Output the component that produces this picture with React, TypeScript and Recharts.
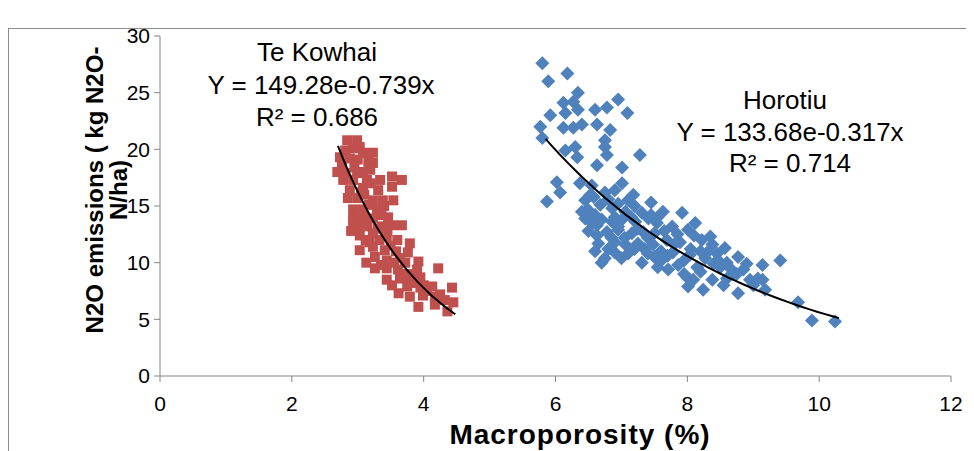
import React from 'react';
import { ScatterChart, Scatter, XAxis, YAxis } from 'recharts';

// Te Kowhai (red squares)
const teKowhaiX = [
  2.84, 2.99, 2.81, 2.93, 3.03, 3.08, 3.23, 2.73, 2.88, 3.0, 3.16, 3.23, 2.69, 2.81, 2.99, 3.08, 3.19, 3.52,
  3.67, 2.78, 2.93, 3.14, 3.34, 3.52, 2.88, 3.08, 3.31, 2.85, 3.0, 3.23, 3.38, 3.54, 2.93, 3.08, 3.29, 2.93,
  3.08, 3.23, 3.46, 3.67, 2.99, 3.14, 3.37, 2.93, 3.52, 3.03, 3.23, 3.44, 3.6, 3.03, 3.23, 3.41, 3.79, 3.76,
  3.26, 3.44, 3.64, 3.92, 3.26, 3.44, 3.61, 3.9, 4.22, 3.44, 3.64, 3.79, 3.95, 3.75, 3.95, 4.13, 4.43, 3.79,
  3.99, 4.17, 4.32, 4.45, 3.92, 4.17, 4.36, 2.76, 2.95, 3.1, 3.17, 3.36, 3.12, 3.33, 3.5, 3.55, 3.7, 3.52,
  3.85, 4.05, 4.25, 3.62, 2.9, 3.13, 3.35, 3.05, 3.2, 3.4, 3.3, 3.45, 3.58, 3.72, 3.85, 4.0, 3.18,
];
const teKowhaiY = [
  20.8, 20.8, 19.9, 20.1, 20.2, 19.7, 19.7, 19.3, 19.2, 19.1, 18.9, 18.8, 18.0, 17.9, 17.9, 18.0, 18.2, 17.6,
  17.3, 17.3, 17.3, 17.3, 17.3, 16.7, 16.4, 16.6, 16.4, 15.7, 15.7, 15.5, 15.5, 15.5, 14.7, 14.7, 14.7, 13.9,
  13.9, 13.9, 14.0, 13.3, 13.2, 13.2, 13.2, 13.5, 13.3, 12.4, 12.6, 12.3, 12.0, 11.1, 11.4, 11.1, 11.7, 10.9,
  10.5, 10.2, 10.4, 10.1, 9.5, 9.5, 9.4, 9.4, 9.5, 8.5, 8.6, 8.6, 8.7, 7.9, 7.8, 7.9, 7.8, 7.0,
  7.1, 7.0, 6.7, 6.5, 6.1, 6.3, 5.7, 18.6, 18.4, 16.0, 15.1, 14.2, 12.0, 12.0, 11.5, 10.0, 9.0, 8.0,
  8.2, 7.5, 7.2, 7.3, 12.8, 10.0, 9.8, 16.2, 17.0, 15.0, 13.0, 12.8, 11.0, 10.0, 9.0, 8.0, 11.8,
];

// Horotiu (blue diamonds)
const horotiuX = [
  5.8, 5.89, 6.18, 6.34, 6.12, 6.27, 6.34, 5.92, 6.15, 6.6, 6.78, 6.95, 7.09, 5.77, 6.12, 6.27, 6.4, 6.63,
  6.83, 5.8, 6.15, 6.3, 6.75, 6.75, 6.78, 7.28, 6.33, 6.02, 6.07, 5.87, 6.37, 6.63, 7.01, 7.01, 6.53, 6.75,
  6.9, 7.1, 6.49, 6.68, 6.86, 7.06, 7.31, 6.45, 6.63, 6.86, 7.01, 7.21, 7.41, 6.63, 6.78, 6.95, 7.16, 7.33,
  6.65, 6.9, 7.06, 7.25, 6.75, 6.9, 7.31, 7.63, 7.92, 8.12, 8.01, 7.77, 7.54, 8.22, 8.38, 8.57, 7.89, 7.69,
  7.48, 7.78, 8.04, 8.27, 8.47, 8.77, 7.59, 7.86, 8.15, 8.5, 8.65, 8.85, 9.14, 7.71, 8.0, 8.09, 8.38, 8.6,
  8.95, 9.07, 8.01, 8.24, 8.77, 9.41, 9.14, 9.18, 9.68, 9.89, 10.24, 6.7, 6.6, 6.95, 7.2, 7.45, 7.5, 7.6,
  7.35, 7.1, 7.5, 7.85, 8.05, 8.3, 8.4, 8.75, 7.95, 8.55, 7.25, 6.85, 6.5, 7.45, 8.2, 6.55, 6.9,
  6.45, 6.55, 6.7, 6.8, 6.95, 7.05, 7.15, 7.2, 7.4, 7.55, 7.65, 7.7, 7.8, 7.95, 8.1, 8.2, 8.35, 8.45,
  8.6, 8.7, 8.9, 9.0, 6.6, 6.8, 7.0, 7.4, 7.55, 6.4, 6.58, 7.18,
];
const horotiuY = [
  27.6, 26.0, 26.7, 25.0, 24.1, 24.2, 23.5, 23.0, 23.2, 23.5, 23.7, 24.4, 23.2, 22.0, 21.9, 21.9, 22.2, 22.2,
  21.7, 21.0, 19.9, 20.2, 20.8, 20.2, 19.5, 19.5, 19.3, 17.1, 16.2, 15.4, 17.0, 18.6, 18.4, 17.0, 16.0, 16.2,
  16.4, 15.5, 14.7, 15.1, 14.8, 14.5, 14.4, 13.9, 13.3, 13.6, 13.8, 13.6, 13.9, 12.4, 12.7, 12.9, 12.6, 12.7,
  11.7, 11.8, 11.6, 11.7, 10.4, 10.9, 10.0, 14.5, 14.4, 13.5, 12.9, 13.2, 13.5, 12.0, 11.6, 11.3, 11.8, 12.0,
  11.6, 10.9, 10.7, 10.4, 10.2, 10.5, 10.1, 9.8, 9.6, 9.6, 9.5, 9.4, 9.8, 9.4, 8.7, 8.5, 8.5, 8.6,
  8.5, 8.6, 7.9, 7.6, 7.3, 10.2, 8.5, 7.6, 6.5, 4.9, 4.8, 10.0, 14.2, 15.2, 15.0, 15.3, 12.6, 11.0,
  11.2, 10.8, 10.5, 12.5, 11.2, 10.9, 9.9, 9.0, 9.0, 8.0, 13.0, 12.2, 12.8, 14.2, 9.2, 16.8, 14.0,
  15.5, 13.5, 13.8, 15.6, 13.2, 12.2, 14.0, 11.2, 12.2, 14.0, 12.8, 10.6, 11.6, 10.2, 12.4, 11.0, 12.3, 10.8,
  10.0, 9.0, 9.9, 8.0, 11.0, 11.2, 10.4, 10.8, 9.6, 14.5, 15.8, 16.0,
];

// exponential trendlines as printed on the chart: y = a * e^(b x)
const teKowhaiFit = { a: 149.28, b: -0.739, from: 2.7, to: 4.48 };
const horotiuFit = { a: 133.68, b: -0.317, from: 5.85, to: 10.3 };

const xTicks = [0, 2, 4, 6, 8, 10, 12];
const yTicks = [0, 5, 10, 15, 20, 25, 30];

const zip = (xs: number[], ys: number[]) => xs.map((x, i) => ({ x, y: ys[i] }));

const fitLine = (f: { a: number; b: number; from: number; to: number }) => {
  const pts = [];
  const n = 40;
  for (let i = 0; i <= n; i++) {
    const x = f.from + ((f.to - f.from) * i) / n;
    pts.push({ x, y: f.a * Math.exp(f.b * x) });
  }
  return pts;
};

const RedSquare = (props: any) => (
  <rect x={props.cx - 5} y={props.cy - 5} width={10} height={10} fill="#C0504D" />
);
const BlueDiamond = (props: any) => {
  const { cx, cy } = props;
  const r = 7;
  return <path d={`M${cx},${cy - r}L${cx + r},${cy}L${cx},${cy + r}L${cx - r},${cy}Z`} fill="#4F81BD" />;
};
const NoDot = () => <g />;

const font = '"Liberation Sans", Arial, sans-serif';
const axisGray = '#868686';

const Note = ({ x, y, children }: { x: number; y: number; children: React.ReactNode }) => (
  <div
    style={{
      position: 'absolute',
      left: x,
      top: y,
      transform: 'translateX(-50%)',
      whiteSpace: 'nowrap',
      fontSize: 26,
      fontFamily: font,
      color: '#000',
      lineHeight: '30px',
    }}
  >
    {children}
  </div>
);

export default function App() {
  const red = zip(teKowhaiX, teKowhaiY);
  const blue = zip(horotiuX, horotiuY);

  return (
    <div style={{ position: 'relative', width: 966, height: 443, overflow: 'hidden', background: '#fff' }}>
      <div
        style={{
          position: 'absolute',
          left: 0,
          top: 20,
          width: 1000,
          height: 500,
          border: '1px solid #8c8c8c',
          boxSizing: 'border-box',
        }}
      />
      <div style={{ position: 'absolute', left: 0, top: 0 }}>
        <ScatterChart width={966} height={443} margin={{ top: 28, right: 23, bottom: 0, left: 0 }}>
          <XAxis
            type="number"
            dataKey="x"
            domain={[0, 12]}
            ticks={xTicks}
            allowDataOverflow
            stroke={axisGray}
            tickSize={6}
            tickMargin={14}
            height={75}
            tick={{ fill: '#000', fontSize: 21, fontFamily: font }}
          />
          <YAxis
            type="number"
            dataKey="y"
            domain={[0, 30]}
            ticks={yTicks}
            allowDataOverflow
            stroke={axisGray}
            tickSize={6}
            tickMargin={4}
            width={152}
            tick={{ fill: '#000', fontSize: 21, fontFamily: font }}
          />
          <Scatter data={red} shape={RedSquare} isAnimationActive={false} />
          <Scatter data={blue} shape={BlueDiamond} isAnimationActive={false} />
          <Scatter
            data={fitLine(teKowhaiFit)}
            shape={NoDot}
            line={{ stroke: '#000', strokeWidth: 2 }}
            isAnimationActive={false}
          />
          <Scatter
            data={fitLine(horotiuFit)}
            shape={NoDot}
            line={{ stroke: '#000', strokeWidth: 2 }}
            isAnimationActive={false}
          />
        </ScatterChart>
      </div>

      <Note x={309} y={29}>Te Kowhai</Note>
      <Note x={313} y={62}>Y = 149.28e-0.739x</Note>
      <Note x={309} y={94}>R² = 0.686</Note>
      <Note x={777} y={77}>Horotiu</Note>
      <Note x={782} y={109}>Y = 133.68e-0.317x</Note>
      <Note x={782} y={140}>R² = 0.714</Note>

      <div
        style={{
          position: 'absolute',
          left: 572,
          top: 411,
          transform: 'translateX(-50%)',
          fontSize: 28,
          fontWeight: 'bold',
          fontFamily: font,
          whiteSpace: 'nowrap',
          letterSpacing: 1,
        }}
      >
        Macroporosity (%)
      </div>
      <div
        style={{
          position: 'absolute',
          left: 99 - 170,
          top: 182 - 24,
          width: 340,
          height: 48,
          transform: 'rotate(-90deg)',
          textAlign: 'center',
          fontSize: 24,
          fontWeight: 'bold',
          fontFamily: font,
          lineHeight: '24px',
        }}
      >
        N2O emissions ( kg N2O-N/ha)
      </div>
    </div>
  );
}
